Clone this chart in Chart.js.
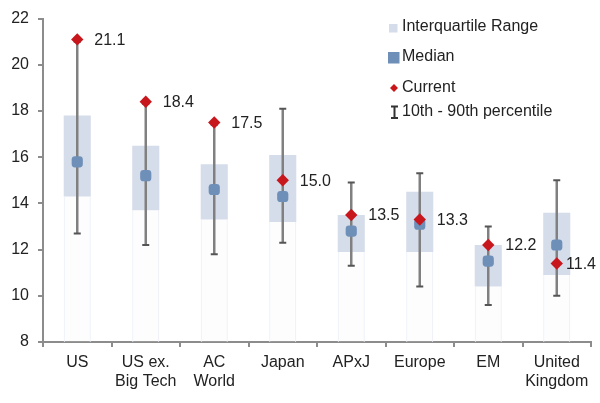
<!DOCTYPE html>
<html>
<head>
<meta charset="utf-8">
<script src="https://cdn.jsdelivr.net/npm/chart.js@4"></script>
<style>
  html, body { margin: 0; padding: 0; background: #fff; }
  #wrap { width: 600px; height: 403px; }
</style>
</head>
<body>
<div id="wrap"><canvas id="peChart"></canvas></div>
<script>
    // Forward P/E ranges by region
    const regions = ['US', ['US ex.', 'Big Tech'], ['AC', 'World'], 'Japan', 'APxJ', 'Europe', 'EM', ['United', 'Kingdom']];
    const p10 = [12.7, 12.2, 11.8, 12.3, 11.3, 10.4, 9.6, 10.0];
    const p90 = [21.0, 18.3, 17.4, 18.1, 14.9, 15.3, 13.0, 15.0];
    const q1 = [14.3, 13.7, 13.3, 13.2, 11.9, 11.9, 10.4, 10.9];
    const q3 = [17.8, 16.5, 15.7, 16.1, 13.5, 14.5, 12.2, 13.6];
    const median = [15.8, 15.2, 14.6, 14.3, 12.8, 13.1, 11.5, 12.2];
    const current = [21.1, 18.4, 17.5, 15.0, 13.5, 13.3, 12.2, 11.4];
    const yTicks = [8, 10, 12, 14, 16, 18, 20, 22];

    const FONT = "'Liberation Sans', Arial, sans-serif";
    const BOX_COLOR = '#d5dcea';
    const MEDIAN_COLOR = '#6e8fb8';
    const CURRENT_COLOR = '#c8161d';

    // whiskers drawn right after the IQR boxes, under the markers
    const whiskerPlugin = {
        id: 'whiskers',
        afterDatasetDraw(chart, args) {
            if (args.index !== 2) return;
            const ctx = chart.ctx;
            const x = chart.scales.x, y = chart.scales.y;
            ctx.save();
            p10.forEach((lo, i) => {
                const px = x.getPixelForValue(i);
                const yLo = y.getPixelForValue(lo);
                const yHi = y.getPixelForValue(p90[i]);
                ctx.strokeStyle = '#808080';
                ctx.lineWidth = 2.5;
                ctx.beginPath();
                ctx.moveTo(px, yLo);
                ctx.lineTo(px, yHi);
                ctx.stroke();
                ctx.strokeStyle = '#555';
                ctx.lineWidth = 2;
                ctx.beginPath();
                ctx.moveTo(px - 3.5, yLo); ctx.lineTo(px + 3.5, yLo);
                ctx.moveTo(px - 3.5, yHi); ctx.lineTo(px + 3.5, yHi);
                ctx.stroke();
            });
            ctx.restore();
        }
    };

    // value labels next to the current diamonds
    const valueLabels = {
        id: 'valueLabels',
        afterDatasetsDraw(chart) {
            const ctx = chart.ctx;
            const x = chart.scales.x, y = chart.scales.y;
            ctx.save();
            ctx.font = '16px ' + FONT;
            ctx.fillStyle = '#222';
            ctx.textBaseline = 'middle';
            current.forEach((v, i) => {
                const txt = v.toFixed(1);
                const w = ctx.measureText(txt).width;
                let px = x.getPixelForValue(i) + 17;
                px = Math.min(px, chart.width - w - 4);
                ctx.fillText(txt, px, y.getPixelForValue(v) + 1);
            });
            ctx.restore();
        }
    };

    // hand-drawn legend in the top-right corner
    const legendBox = {
        id: 'legendBox',
        afterDraw(chart) {
            const ctx = chart.ctx;
            ctx.save();
            ctx.font = '16px ' + FONT;
            ctx.fillStyle = '#222';
            ctx.textBaseline = 'middle';
            const tx = 402;
            ctx.fillText('Interquartile Range', tx, 27);
            ctx.fillText('Median', tx, 57);
            ctx.fillText('Current', tx, 88);
            ctx.fillText('10th - 90th percentile', tx, 112);

            ctx.fillStyle = BOX_COLOR;
            ctx.fillRect(389, 24, 8.5, 8.5);
            ctx.fillStyle = MEDIAN_COLOR;
            ctx.fillRect(388, 52, 11.5, 11.5);
            ctx.fillStyle = CURRENT_COLOR;
            ctx.beginPath();
            ctx.moveTo(394, 84); ctx.lineTo(398, 88); ctx.lineTo(394, 92); ctx.lineTo(390, 88);
            ctx.closePath();
            ctx.fill();
            ctx.strokeStyle = '#333';
            ctx.lineWidth = 2;
            ctx.beginPath();
            ctx.moveTo(394.5, 106); ctx.lineTo(394.5, 118.5);
            ctx.moveTo(391, 106.5); ctx.lineTo(398, 106.5);
            ctx.moveTo(391, 118); ctx.lineTo(398, 118);
            ctx.stroke();
            ctx.restore();
        }
    };

    const ctx = document.getElementById('peChart').getContext('2d');
    const peChart = new Chart(ctx, {
        type: 'bar',
        data: {
            labels: regions,
            datasets: [
                {
                    type: 'line',
                    label: 'Current',
                    data: current,
                    showLine: false,
                    pointStyle: 'rectRot',
                    pointRadius: 6.2,
                    pointBackgroundColor: CURRENT_COLOR,
                    pointBorderWidth: 0,
                    order: 0
                },
                {
                    type: 'line',
                    label: 'Median',
                    data: median,
                    showLine: false,
                    pointStyle: 'rectRounded',
                    pointRadius: 6.5,
                    pointBackgroundColor: MEDIAN_COLOR,
                    pointBorderWidth: 0,
                    order: 1
                },
                {
                    label: 'Interquartile Range',
                    data: q1.map((v, i) => [v, q3[i]]),
                    backgroundColor: BOX_COLOR,
                    borderWidth: 0,
                    grouped: false,
                    barPercentage: 0.395,
                    categoryPercentage: 1,
                    order: 2
                },
                {
                    label: 'base',
                    data: q1.map(v => [yTicks[0], v]),
                    backgroundColor: 'rgba(235,239,247,0.12)',
                    borderColor: '#eaeef5',
                    borderWidth: { left: 1, right: 1, top: 0, bottom: 0 },
                    borderSkipped: false,
                    grouped: false,
                    barPercentage: 0.395,
                    categoryPercentage: 1,
                    order: 3
                }
            ]
        },
        options: {
            responsive: true,
            maintainAspectRatio: false,
            animation: false,
            layout: { padding: { left: 0, right: 9, top: 15, bottom: 0 } },
            plugins: {
                legend: { display: false },
                tooltip: { enabled: false }
            },
            scales: {
                x: {
                    grid: { drawOnChartArea: false, drawTicks: true, tickLength: 5, color: '#8c8c8c', lineWidth: 2 },
                    border: { display: true, color: '#8c8c8c', width: 2 },
                    ticks: { color: '#222', font: { family: FONT, size: 16 }, padding: 6, maxRotation: 0, autoSkip: false },
                    afterFit(scale) { scale.height = 61; }
                },
                y: {
                    min: 8,
                    max: 22,
                    afterBuildTicks(scale) { scale.ticks = yTicks.map(v => ({ value: v })); },
                    grid: { drawOnChartArea: false, drawTicks: true, tickLength: 5, color: '#8c8c8c', lineWidth: 2 },
                    border: { display: true, color: '#8c8c8c', width: 2 },
                    ticks: { color: '#222', font: { family: FONT, size: 16 }, padding: 9 },
                    afterFit(scale) { scale.width = 43; }
                }
            }
        },
        plugins: [whiskerPlugin, valueLabels, legendBox]
    });
</script>
</body>
</html>
